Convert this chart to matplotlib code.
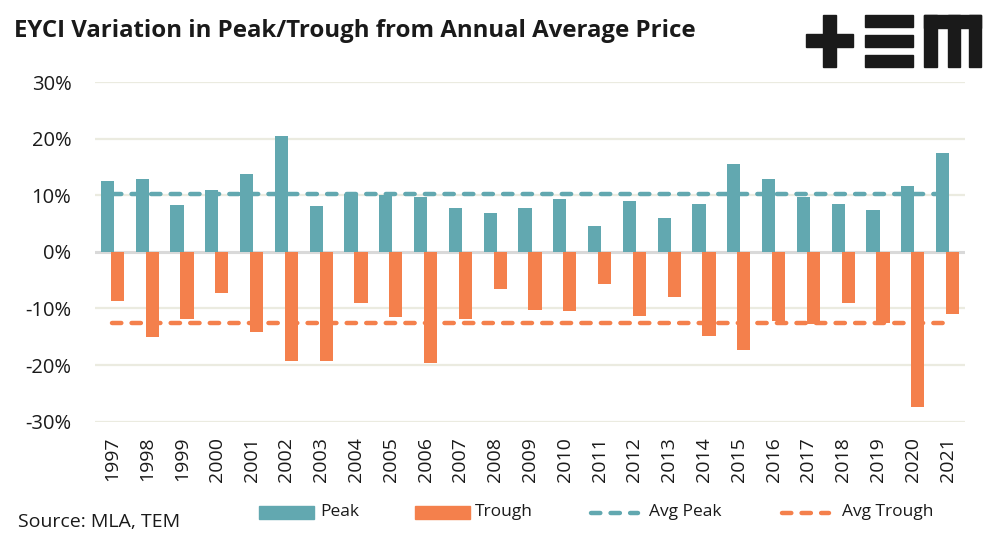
import matplotlib.pyplot as plt
from matplotlib.patches import Rectangle
from matplotlib.lines import Line2D
import numpy as np

# data (percent)
years = [str(y) for y in range(1997, 2022)]
peak = [12.6, 12.9, 8.2, 11.0, 13.7, 20.4, 8.1, 10.2, 10.0, 9.6, 7.7, 6.8, 7.7,
        9.4, 4.5, 8.9, 5.9, 8.4, 15.5, 12.9, 9.6, 8.5, 7.4, 11.6, 17.5]
trough = [-8.6, -15.0, -11.9, -7.2, -14.1, -19.2, -19.2, -9.1, -11.5, -19.6, -11.8, -6.5, -10.2,
          -10.4, -5.6, -11.3, -7.9, -14.8, -17.3, -12.2, -12.8, -9.1, -12.6, -27.4, -10.9]
avg_peak = 10.2
avg_trough = -12.5
yticks = [-30, -20, -10, 0, 10, 20, 30]

teal = '#62A8B0'
orange = '#F4804C'
dark = '#1a1a1a'
font = 'Open Sans'
W, H = 1004, 539

fig = plt.figure(figsize=(W / 100, H / 100), dpi=100)
ax = fig.add_axes([95 / W, 1 - 421.7 / H, 870 / W, (421.7 - 82) / H])

x = np.arange(len(years))
w = 0.375
ax.bar(x - 0.144, peak, w, color=teal, zorder=3)
ax.bar(x + 0.144, trough, w, color=orange, zorder=3)

dash_kw = dict(lw=3.2, dashes=(2.1, 2.3), dash_capstyle='round')
ax.plot([x[0], x[-1]], [avg_peak, avg_peak], color=teal, zorder=4, **dash_kw)
ax.plot([x[0], x[-1]], [avg_trough, avg_trough], color=orange, zorder=4, **dash_kw)

ax.set_xlim(-0.5, len(years) - 0.5)
ax.set_ylim(-30, 30)
ax.set_yticks(yticks)
ax.set_yticklabels([f'{v}%' for v in yticks], fontsize=14.5, family=font, color=dark)
ax.set_xticks(x)
ax.set_xticklabels(years, rotation=90, fontsize=14, family=font, color=dark)
ax.tick_params(axis='y', length=0, pad=17)
ax.tick_params(axis='x', length=0, pad=11)

for v in yticks:
    if v != 0:
        ax.axhline(v, color='#EBEBE0', lw=1.6, zorder=1)
ax.axhline(0, color='#D9D9D9', lw=2.2, zorder=2)
for s in ax.spines.values():
    s.set_visible(False)

fig.text(14 / W, 1 - 31 / H, 'EYCI Variation in Peak/Trough from Annual Average Price',
         fontsize=17.3, fontweight='bold', family=font, color=dark, va='center')
fig.text(18 / W, 1 - 522 / H, 'Source: MLA, TEM', fontsize=14, family=font,
         color=dark, va='center')


def box(x0, y0, x1, y1, color=dark):
    fig.patches.append(Rectangle((x0 / W, 1 - y1 / H), (x1 - x0) / W, (y1 - y0) / H,
                                 transform=fig.transFigure, color=color))


# logo
box(806, 34, 853, 47)
box(823, 15, 836, 67)
box(865, 15, 913, 27)
box(865, 35, 913, 47)
box(865, 55, 913, 67)
box(924, 15, 981, 28)
box(924, 15, 937, 67)
box(948, 15, 960, 67)
box(969, 15, 981, 67)

# legend, drawn by hand at the reference positions
legend_y = 512.5
box(259, 506, 314, 519, teal)
box(415, 506, 470, 519, orange)
for x0, x1, c in [(591, 638, teal), (782, 829, orange)]:
    fig.lines.append(Line2D([x0 / W, x1 / W], [1 - legend_y / H] * 2, transform=fig.transFigure,
                            color=c, **dash_kw))
for tx, label in [(320, 'Peak'), (475, 'Trough'), (649, 'Avg Peak'), (842, 'Avg Trough')]:
    fig.text(tx / W, 1 - legend_y / H, label, fontsize=12.5, family=font, color=dark, va='center')

fig.savefig('out.png', dpi=100)
